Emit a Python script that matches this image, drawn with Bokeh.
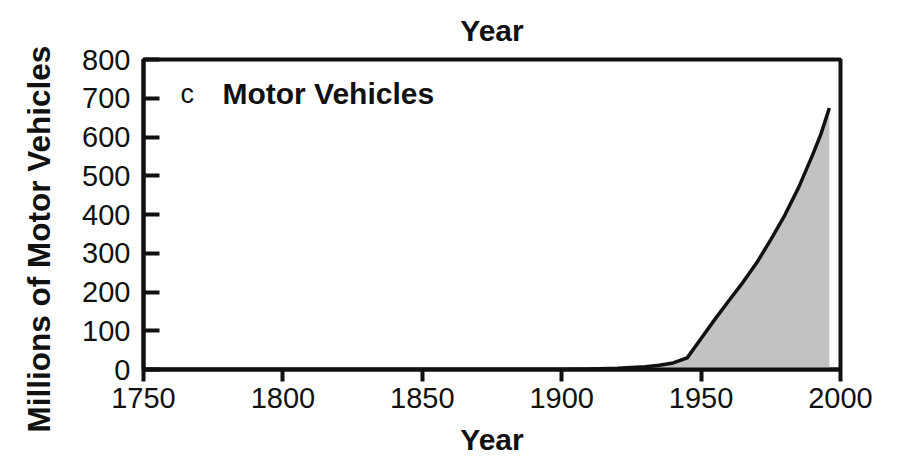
from bokeh.plotting import figure
from bokeh.models import Range1d, FixedTicker, Label, Title
from bokeh.embed import file_html
from bokeh.resources import INLINE

# Data
years = [1750, 1800, 1850, 1900, 1910, 1920, 1930, 1935, 1940, 1945, 1950, 1955,
         1960, 1965, 1970, 1975, 1980, 1985, 1990, 1993, 1996]
vehicles = [0, 0, 0, 0, 1, 3, 7, 11, 17, 30, 80, 130,
            178, 225, 276, 335, 398, 470, 554, 608, 675]
x_ticks = [1750, 1800, 1850, 1900, 1950, 2000]
y_ticks = [0, 100, 200, 300, 400, 500, 600, 700, 800]

FONT = "Liberation Sans"
INK = "#111111"

p = figure(width=897, height=458, output_backend="svg", toolbar_location=None,
           x_range=Range1d(1750, 2000), y_range=Range1d(0, 800))
p.min_border_left = 143
p.min_border_right = 57
p.min_border_top = 59
p.min_border_bottom = 89
p.background_fill_color = "white"
p.border_fill_color = "white"
p.outline_line_color = INK
p.outline_line_width = 4
p.xgrid.visible = False
p.ygrid.visible = False

p.varea(x=years, y1=[0] * len(years), y2=vehicles, fill_color="#c1c2c4")
p.line(x=years, y=vehicles, line_color=INK, line_width=3.5)

xa = p.xaxis[0]
xa.ticker = FixedTicker(ticks=x_ticks)
xa.minor_tick_line_color = None
xa.major_tick_in = 0
xa.major_tick_out = 12
xa.major_tick_line_width = 4
xa.major_tick_line_color = INK
xa.axis_line_width = 4
xa.axis_line_color = INK
xa.major_label_text_font = FONT
xa.major_label_text_font_size = "29px"
xa.major_label_text_color = INK
xa.major_label_standoff = 6
xa.axis_label = "Year"
xa.axis_label_text_font = FONT
xa.axis_label_text_font_size = "30px"
xa.axis_label_text_font_style = "bold"
xa.axis_label_text_color = INK
xa.axis_label_standoff = 12

ya = p.yaxis[0]
ya.ticker = FixedTicker(ticks=y_ticks)
ya.minor_tick_line_color = None
ya.major_tick_in = 16
ya.major_tick_out = 0
ya.major_tick_line_width = 4
ya.major_tick_line_color = INK
ya.axis_line_width = 4
ya.axis_line_color = INK
ya.major_label_text_font = FONT
ya.major_label_text_font_size = "29px"
ya.major_label_text_color = INK
ya.major_label_standoff = 13

# y-axis title, shifted a little below the frame centre as in the reference
p.add_layout(Title(text="Millions of Motor Vehicles", align="left", offset=-63,
                   standoff=41, vertical_align="top", text_font=FONT,
                   text_font_size="31.5px", text_font_style="bold", text_color=INK), "left")

# partially cut-off title of the panel above
p.add_layout(Title(text="Year", align="center", standoff=21, vertical_align="top",
                   text_font=FONT, text_font_size="30px", text_font_style="bold",
                   text_color=INK), "above")

# in-panel labels
p.add_layout(Label(x=1763.3, y=712, text="c", text_font=FONT, text_font_size="27px",
                   text_color=INK, text_baseline="alphabetic"))
p.add_layout(Label(x=1778.3, y=712, text="Motor Vehicles", text_font=FONT,
                   text_font_size="30px", text_font_style="bold", text_color=INK,
                   text_baseline="alphabetic"))

open("out.html", "w").write(file_html(p, INLINE))
